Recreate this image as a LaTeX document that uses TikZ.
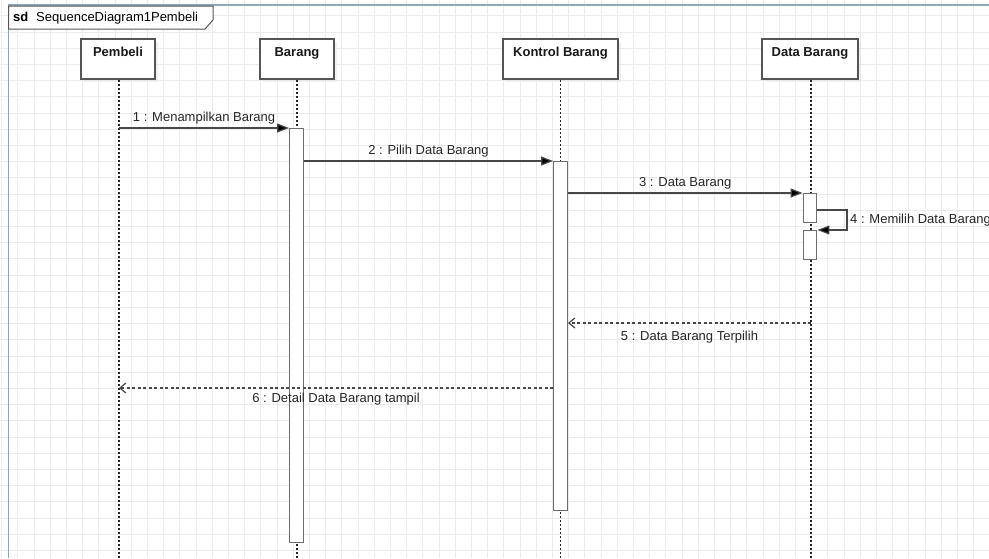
\documentclass[tikz,border=0pt]{standalone}
\usepackage{fontspec}
\setmainfont{Liberation Sans}
\usetikzlibrary{arrows.meta,shadows}
\definecolor{gridc}{HTML}{EBEBEB}
\definecolor{framec}{HTML}{8FA8B8}
\definecolor{linec}{HTML}{474747}
\definecolor{boxc}{HTML}{555555}
\definecolor{barc}{HTML}{6E6E6E}
\begin{document}
\begin{tikzpicture}[x=1pt,y=-1pt,
  lbox/.style={draw=boxc, line width=1.5pt, fill=white, minimum height=40pt, inner sep=0pt,
    drop shadow={shadow xshift=3pt, shadow yshift=-3pt, fill=black!10}},
  ttl/.style={font=\bfseries\fontsize{13}{15}\selectfont, text=black!90, inner sep=0pt, anchor=base},
  lifeline/.style={draw=black!85, line width=1.5pt, dash pattern=on 2pt off 2pt},
  actbar/.style={draw=barc, line width=1.4pt, fill=white, minimum width=13.5pt, anchor=north, inner sep=0pt},
  syncmsg/.style={draw=linec, line width=1.2pt, -{Triangle[length=12pt,width=9pt,fill=black]}},
  retmsg/.style={draw=linec, line width=1.2pt, dash pattern=on 3pt off 2.5pt, -{Straight Barb[length=6pt,width=10pt]}},
  lbl/.style={font=\fontsize{13}{15}\selectfont, text=black!85}
]
\useasboundingbox (0,0) rectangle (989,558);
\clip (0,0) rectangle (989,558);
\fill[white] (0,0) rectangle (989,558);
% grid
\foreach \i in {0,...,60} \draw[gridc, line width=0.8pt] ({1.5+16.2*\i},0) -- ({1.5+16.2*\i},558);
\foreach \j in {1,...,34} \draw[gridc, line width=0.8pt] (0,{-0.5+16.2*\j}) -- (989,{-0.5+16.2*\j});
% frame
\draw[framec, line width=1.5pt] (8.5,558) -- (8.5,5) -- (989,5);
\draw[boxc, line width=1pt, fill=white] (8.5,6) -- (213,6) -- (213,20) -- (205,29) -- (8.5,29) -- cycle;
\node[font=\bfseries\fontsize{13}{15}\selectfont, anchor=base west, inner sep=0pt] (sd) at (13,21.5) {sd};
\node[font=\fontsize{13}{15}\selectfont, anchor=base west, inner sep=0pt] (sdname) at (36,21.5) {SequenceDiagram1Pembeli};
% bottom reference
\coordinate (bot) at (0,558);
% lifeline heads
\node[lbox, minimum width=74pt] (pb) at (118,59) {};
\node[lbox, minimum width=74pt] (br) at (297,59) {};
\node[lbox, minimum width=115pt] (kt) at (560.5,59) {};
\node[lbox, minimum width=96pt] (db) at (810,59) {};
\node[ttl] (tpb) at ([yshift=-18pt]pb.north) {Pembeli};
\node[ttl] (tbr) at ([yshift=-18pt]br.north) {Barang};
\node[ttl] (tkt) at ([yshift=-18pt]kt.north) {Kontrol Barang};
\node[ttl] (tdb) at ([yshift=-18pt]db.north) {Data Barang};
% lifelines
\draw[lifeline] ([xshift=1pt]pb.south) -- ([xshift=1pt]pb.south |- bot);
\draw[lifeline] (br.south) -- (br.south |- bot);
\draw[lifeline] (kt.south) -- (kt.south |- bot);
\draw[lifeline] ([xshift=1pt]db.south) -- ([xshift=1pt]db.south |- bot);
% activation bars
\node[actbar, minimum height=414pt] (ab) at (296.5,128) {};
\node[actbar, minimum height=349pt] (kb) at (560.5,161) {};
\node[actbar, minimum height=29pt] (db1) at (810,193) {};
\node[actbar, minimum height=29pt] (db2) at (810,230) {};
% messages
\draw[syncmsg] ([xshift=1pt]pb.south |- ab.north west) -- (ab.north west)
  node[lbl, midway, above, inner sep=3pt] {1 : Menampilkan Barang};
\draw[syncmsg] (ab.east |- kb.north west) -- (kb.north west)
  node[lbl, midway, above, inner sep=3pt] {2 : Pilih Data Barang};
\draw[syncmsg] (kb.east |- db1.north west) -- (db1.north west)
  node[lbl, midway, above, inner sep=3pt] {3 : Data Barang};
\coordinate (s4a) at (847,210);
\coordinate (s4b) at (847,230);
\draw[syncmsg] (db1.east |- s4a) -- (s4a) -- (s4b) -- (db2.north east);
\node[lbl, anchor=base west, inner sep=0pt] (l4) at (850,223.5) {4 : Memilih Data Barang};
\coordinate (r5) at (811,323);
\draw[retmsg] (r5) -- (kb.east |- r5)
  node[lbl, midway, below, inner sep=7pt] {5 : Data Barang Terpilih};
\coordinate (r6) at (0,388);
\draw[retmsg] (kb.west |- r6) -- ([xshift=1pt]pb.south |- r6)
  node[lbl, midway, below, inner sep=4.5pt] {6 : Detail Data Barang tampil};
\end{tikzpicture}
\end{document}
